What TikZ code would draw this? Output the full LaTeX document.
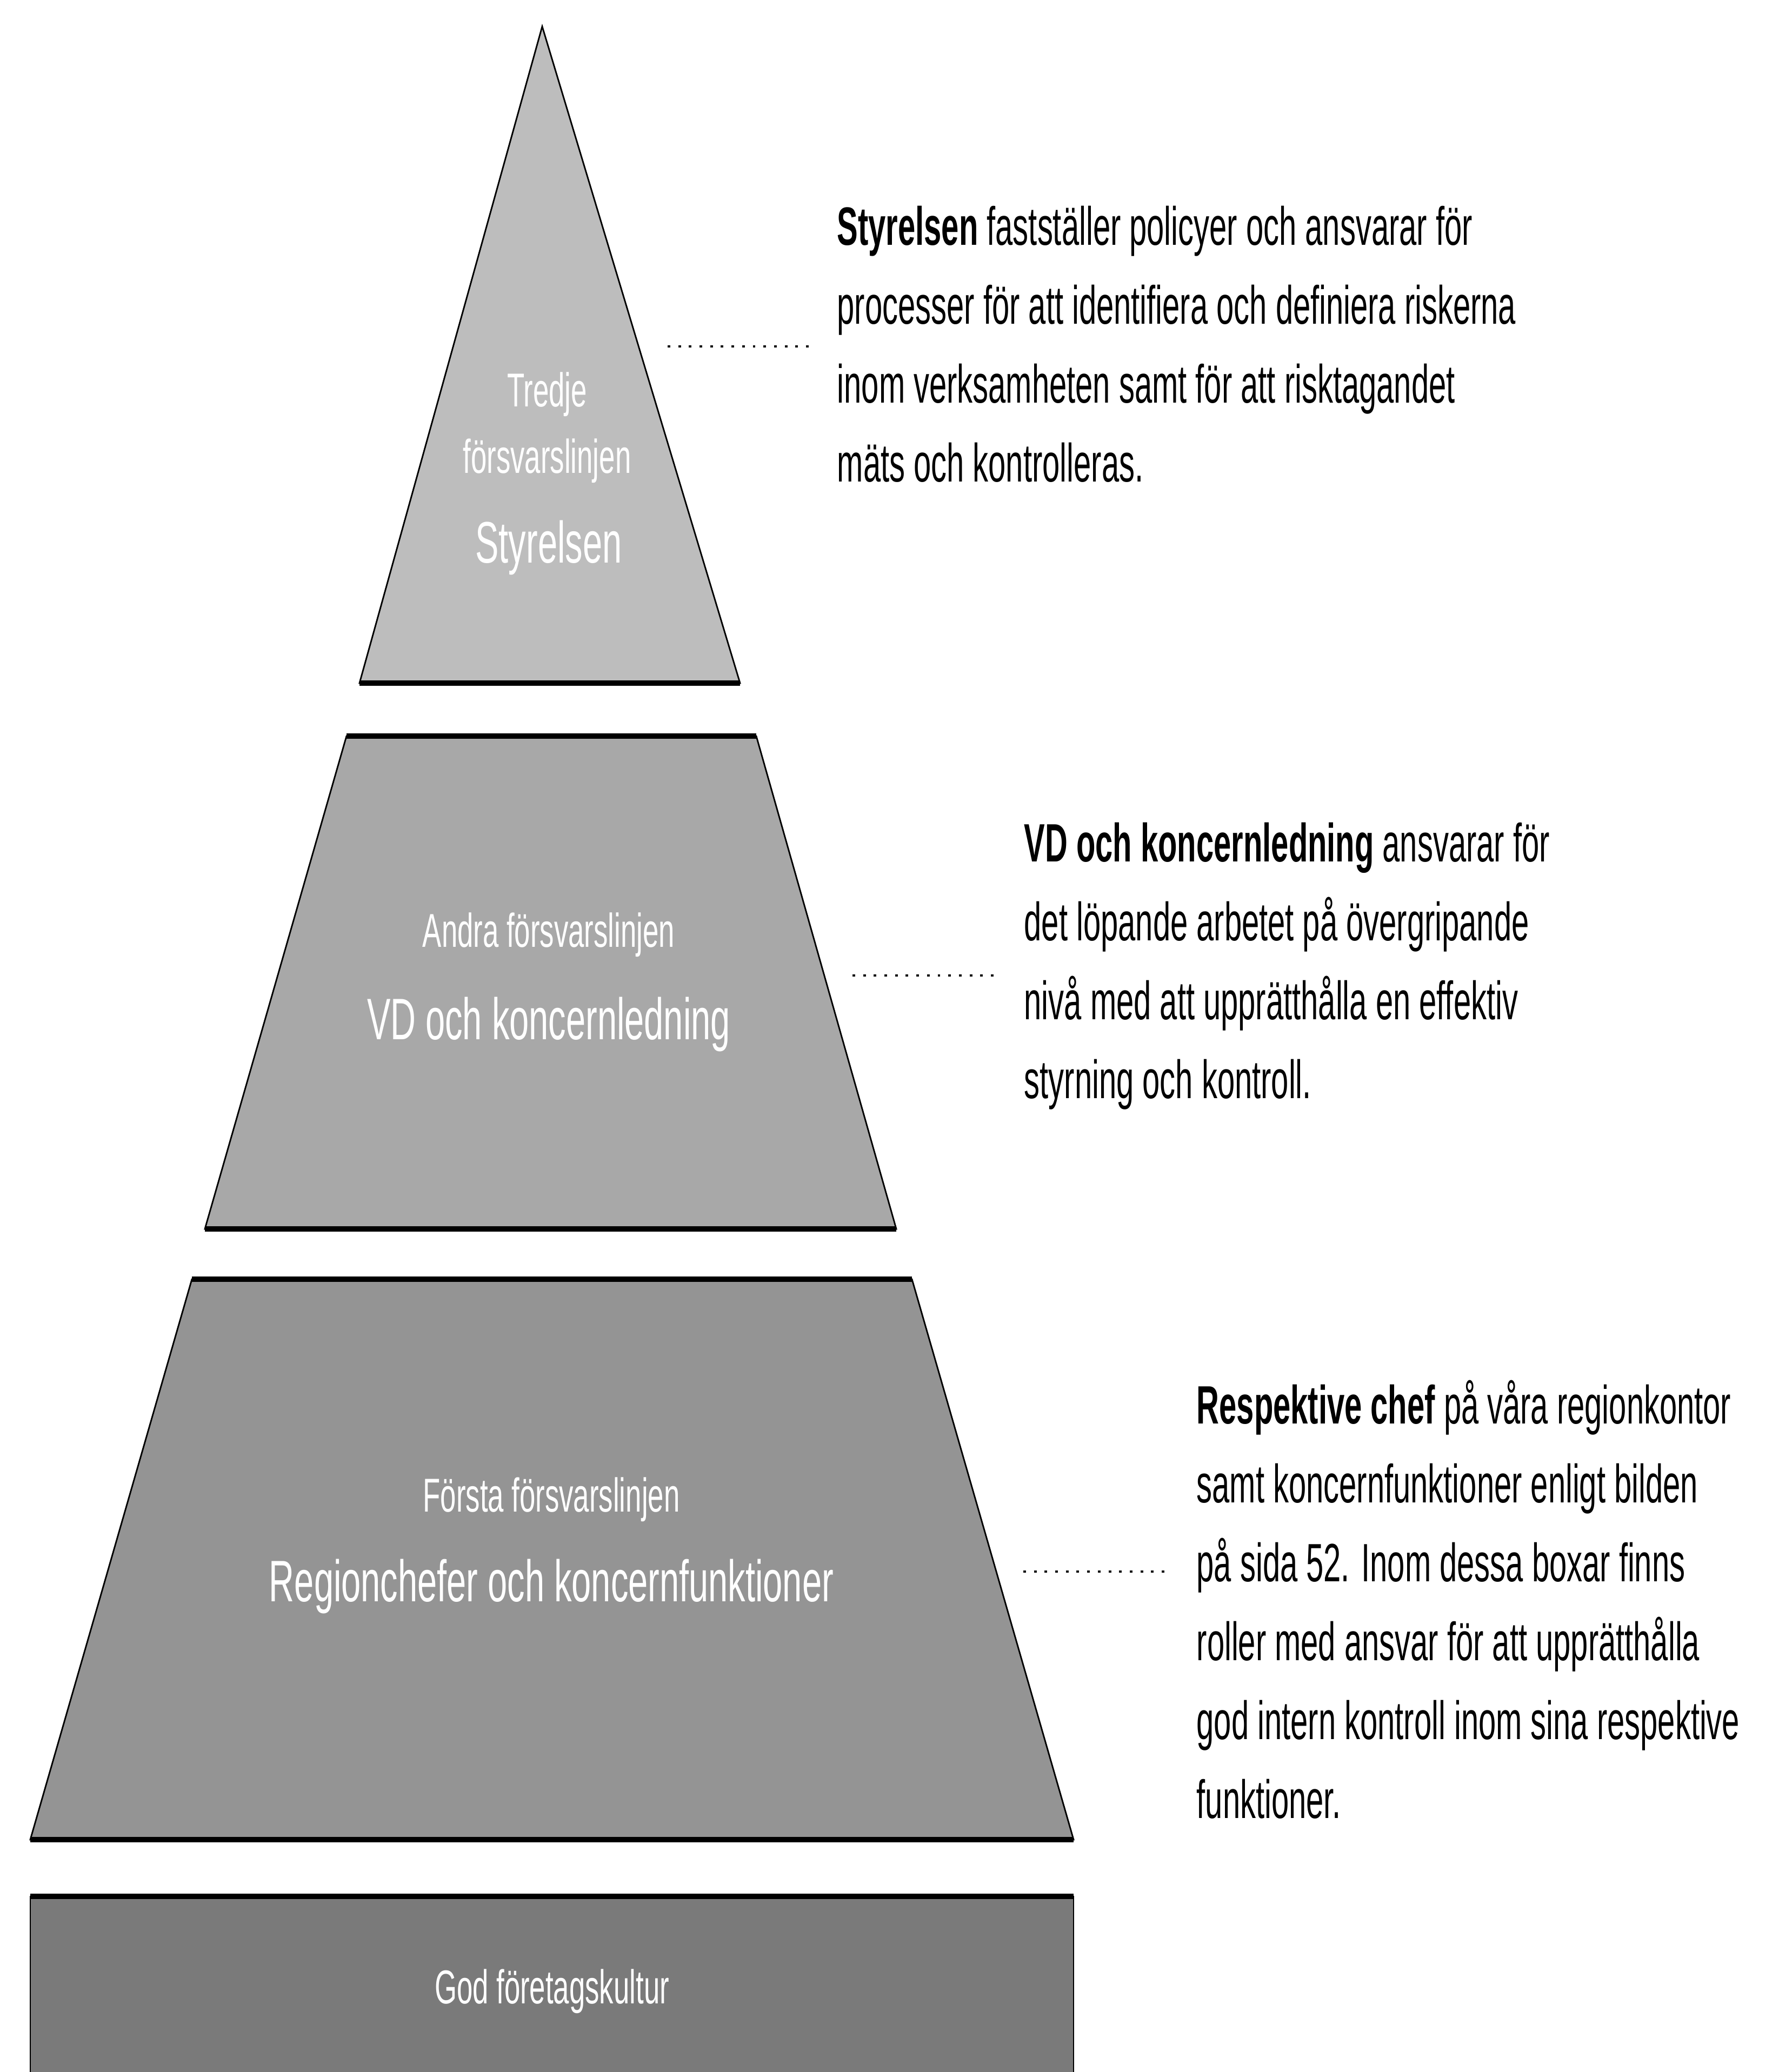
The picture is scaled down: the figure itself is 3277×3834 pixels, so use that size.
\documentclass[tikz,border=0pt]{standalone}
\usepackage{fontspec}
\setmainfont{Liberation Sans}
\newfontfamily\tierfont{Liberation Sans}[FakeStretch=0.6]
\newfontfamily\notefont{Liberation Sans}[FakeStretch=0.58]
\usetikzlibrary{positioning,calc}
\definecolor{tierone}{gray}{0.74}
\definecolor{tiertwo}{gray}{0.66}
\definecolor{tierthree}{gray}{0.58}
\definecolor{tierbase}{gray}{0.48}

\begin{document}
\begin{tikzpicture}[x=0.01cm,y=-0.01cm,
    tier/.style={draw=black,line width=0.8pt},
    rim/.style={draw=black,line width=2.6pt},
    tiersmall/.style={text=white,inner sep=0pt,font=\tierfont\fontsize{25}{28}\selectfont},
    tierbig/.style={text=white,inner sep=0pt,font=\tierfont\fontsize{30.8}{34}\selectfont},
    note/.style={anchor=west,align=left,inner xsep=0.51cm,inner ysep=0pt,font=\notefont\fontsize{28.4}{41.5}\selectfont},
    leader/.style={line width=1.4pt,dash pattern=on 1.4pt off 4.2pt}]
    \useasboundingbox (0,0) rectangle (3277,3834);

    % pyramid layers
    \fill[tierone,tier] (1003,49) -- (1369,1264) -- (665,1264) -- cycle;
    \draw[rim] (665,1264) -- (1369,1264);
    \fill[tiertwo,tier] (641,1362) -- (1399,1362) -- (1658,2274) -- (379,2274) -- cycle;
    \draw[rim] (641,1362) -- (1399,1362);
    \draw[rim] (379,2274) -- (1658,2274);
    \fill[tierthree,tier] (355,2367) -- (1687,2367) -- (1986,3404) -- (56,3404) -- cycle;
    \draw[rim] (355,2367) -- (1687,2367);
    \draw[rim] (56,3404) -- (1986,3404);
    \fill[tierbase,tier] (56,3834) -- (56,3509) -- (1986,3509) -- (1986,3834);
    \draw[rim] (56,3509) -- (1986,3509);

    % labels in the layers
    \node[tiersmall] (tredje) at (1012,730) {Tredje};
    \node[tiersmall] (tredjelinje) at (1012,853) {försvarslinjen};
    \node[tierbig] (styrelsen) at (1015,1013) {Styrelsen};
    \node[tiersmall] (andra) at (1015,1730) {Andra försvarslinjen};
    \node[tierbig] (vd) at (1015,1895) {VD och koncernledning};
    \node[tiersmall] (forsta) at (1020,2775) {Första försvarslinjen};
    \node[tierbig] (regionchefer) at (1020,2935) {Regionchefer och koncernfunktioner};
    \node[tiersmall] (kultur) at (1021,3685) {God företagskultur};

    % notes
    \node[note] (noteA) at (1497,637) {\textbf{Styrelsen} fastställer policyer och ansvarar för\\processer för att identifiera och definiera riskerna\\inom verksamheten samt för att risktagandet\\mäts och kontrolleras.};
    \node[note] (noteB) at (1843,1788) {\textbf{VD och koncernledning} ansvarar för\\det löpande arbetet på övergripande\\nivå med att upprätthålla en effektiv\\styrning och kontroll.};
    \node[note] (noteC) at (2162,2960) {\textbf{Respektive chef} på våra regionkontor\\samt koncernfunktioner enligt bilden\\på sida 52. Inom dessa boxar finns\\roller med ansvar för att upprätthålla\\god intern kontroll inom sina respektive\\funktioner.};

    \coordinate (dotA) at (1235,641);
    \coordinate (dotB) at (1577,1805);
    \coordinate (dotC) at (1893,2908);
    \draw[leader] (dotA) -- (dotA -| noteA.west);
    \draw[leader] (dotB) -- (dotB -| noteB.west);
    \draw[leader] (dotC) -- (dotC -| noteC.west);
\end{tikzpicture}
\end{document}
